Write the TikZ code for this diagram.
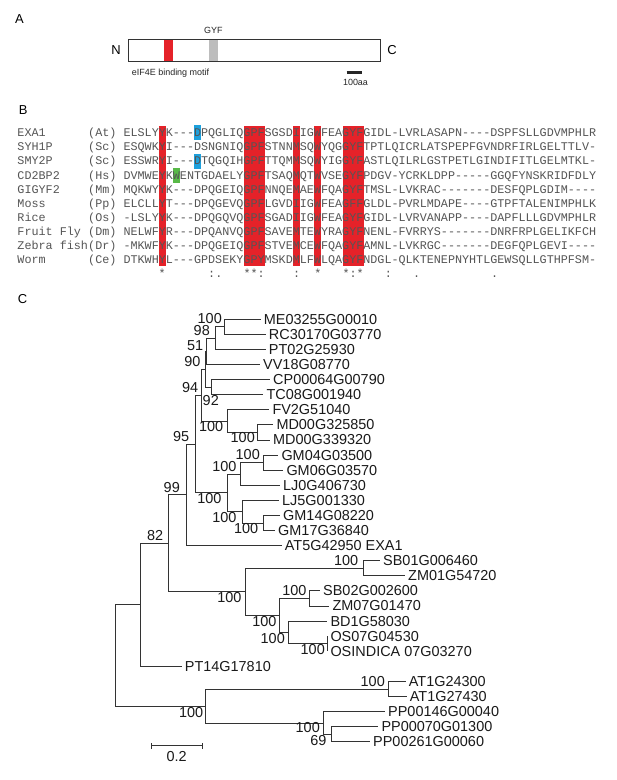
\documentclass[tikz,border=0pt]{standalone}
\usepackage{fontspec}
\setmainfont{Liberation Sans}
\setmonofont{Liberation Mono}
\definecolor{hlred}{HTML}{E52229}
\definecolor{hlblue}{HTML}{1EA0DC}
\definecolor{hlgreen}{HTML}{58B947}
\definecolor{seqcol}{HTML}{555555}
\definecolor{treecol}{HTML}{333333}
\definecolor{labcol}{HTML}{1A1A1A}
\definecolor{gyfgray}{HTML}{BDBDBD}
\definecolor{boxcol}{HTML}{333333}
\begin{document}
\begin{tikzpicture}[x=1bp,y=-1bp,
  br/.style={draw=treecol,line width=0.9bp},
  leaf/.style={anchor=west,inner xsep=3bp,inner ysep=0pt,font=\fontsize{14.5}{16}\selectfont,text=labcol},
  bs/.style={anchor=east,inner sep=0pt,font=\fontsize{14.5}{16}\selectfont,text=labcol},
  seqtxt/.style={anchor=base west,inner sep=0pt,font=\ttfamily\fontsize{11.8}{13}\selectfont,text=seqcol},
  cons/.style={anchor=base,inner sep=0pt,font=\ttfamily\fontsize{11.8}{13}\selectfont,text=seqcol},
  panel/.style={inner sep=0pt,font=\fontsize{13}{15}\selectfont},
  smalltxt/.style={inner sep=0pt,font=\fontsize{9}{11}\selectfont,text=black!85},
  band/.style={inner sep=0pt,minimum width=8.3bp,minimum height=22.6bp,anchor=north west}
]
\useasboundingbox (0,0) rectangle (617,780);
\fill[white] (0,0) rectangle (617,780);

% ---------------- Panel A ----------------
\node[panel] (labA) at (19.5,19.5) {A};
\node[band,fill=hlred] (eif) at (164,38.7) {};
\node[band,fill=gyfgray] (gyfbox) at (209,38.7) {};
\node[draw=boxcol,line width=1.1bp,inner sep=0pt,minimum width=252.6bp,minimum height=22.6bp,anchor=north west] (prot) at (127.7,38.7) {};
\node[panel] (Nterm) at (116,50) {N};
\node[panel] (Cterm) at (392,50) {C};
\node[smalltxt,anchor=base] (gyf) at (213.3,33.9) {GYF};
\node[smalltxt,anchor=base west] (eiflab) at (131.7,75.5) {eIF4E binding motif};
\coordinate (sa) at (346.7,72.3);
\coordinate (sb) at (362.3,72.3);
\draw[line width=2.6bp,black!85] (sa) -- (sb);
\node[smalltxt,anchor=base] (aa) at (355.5,85.9) {100aa};

% ---------------- Panel B ----------------
\node[panel] (labB) at (23.3,110.5) {B};
\foreach \c in {6,18,19,20,25,28,32,33,34}{
  \fill[hlred] ({123.35+(\c-1)*7.07},125.5) rectangle ++(7.07,140);
}
\fill[hlblue] ({123.35+10*7.07},125.2) rectangle ++(7.07,15);
\fill[hlblue] ({123.35+10*7.07},153.5) rectangle ++(7.07,15);
\fill[hlgreen] ({123.35+7*7.07},167.6) rectangle ++(7.07,15);
\foreach \nm/\sp/\sq [count=\r from 0] in {
  EXA1/At/ELSLYYK---DPQGLIQGPFSGSDIIGWFEAGYFGIDL-LVRLASAPN----DSPFSLLGDVMPHLR,
  SYH1P/Sc/ESQWKYI---DSNGNIQGPFSTNNMSQWYQGGYFTPTLQICRLATSPEPFGVNDRFIRLGELTTLV-,
  SMY2P/Sc/ESSWRYI---DTQGQIHGPFTTQMMSQWYIGGYFASTLQILRLGSTPETLGINDIFITLGELMTKL-,
  CD2BP2/Hs/DVMWEYKWENTGDAELYGPFTSAQMQTWVSEGYFPDGV-YCRKLDPP-----GGQFYNSKRIDFDLY,
  GIGYF2/Mm/MQKWYYK---DPQGEIQGPFNNQEMAEWFQAGYFTMSL-LVKRAC-------DESFQPLGDIM----,
  Moss/Pp/ELCLLYT---DPQGEVQGPFLGVDIIGWFEAGFFGLDL-PVRLMDAPE----GTPFTALENIMPHLK,
  Rice/Os/-LSLYYK---DPQGQVQGPFSGADIIGWFEAGYFGIDL-LVRVANAPP----DAPFLLLGDVMPHLR,
  Fruit Fly/Dm/NELWFYR---DPQANVQGPFSAVEMTEWYRAGYFNENL-FVRRYS-------DNRFRPLGELIKFCH,
  Zebra fish/Dr/-MKWFYK---DPQGEIQGPFSTVEMCEWFQAGYFAMNL-LVKRGC-------DEGFQPLGEVI----,
  Worm/Ce/DTKWHYL---GPDSEKYGPYMSKDMLFWLQAGYFNDGL-QLKTENEPNYHTLGEWSQLLGTHPFSM-}{
  \pgfmathsetmacro\yb{132.7+14.14*\r+3.9}
  \node[seqtxt] (name\r) at (17.3,\yb) {\nm};
  \node[seqtxt] (spec\r) at (88.0,\yb) {(\sp)};
  \node[seqtxt] (seq\r) at (123.35,\yb) {\sq};
}
\foreach \c/\m [count=\k] in {6/*,13/:,14/.,18/*,19/*,20/:,25/:,28/*,32/*,33/:,34/*,38/:,42/.,53/.}{
  \node[cons] (cons\k) at ({123.35+(\c-0.5)*7.07},277.9) {\m};
}

% ---------------- Panel C ----------------
\node[panel] (labC) at (22.5,299) {C};

% leaves
\node[leaf] (ME)   at (260.7,319.3)  {ME03255G00010};
\node[leaf] (RC)   at (265.7,334.39) {RC30170G03770};
\node[leaf] (PTa)  at (265.7,349.48) {PT02G25930};
\node[leaf] (VV)   at (260.0,364.57) {VV18G08770};
\node[leaf] (CP)   at (270.0,379.66) {CP00064G00790};
\node[leaf] (TC)   at (263.3,394.75) {TC08G001940};
\node[leaf] (FV)   at (269.3,409.84) {FV2G51040};
\node[leaf] (MDa)  at (273.3,424.93) {MD00G325850};
\node[leaf] (MDb)  at (270.0,440.02) {MD00G339320};
\node[leaf] (GMa)  at (278.3,455.11) {GM04G03500};
\node[leaf] (GMb)  at (283.3,470.2)  {GM06G03570};
\node[leaf] (LJa)  at (280.0,485.29) {LJ0G406730};
\node[leaf] (LJb)  at (279.0,500.38) {LJ5G001330};
\node[leaf] (GMc)  at (280.0,515.47) {GM14G08220};
\node[leaf] (GMd)  at (275.0,530.56) {GM17G36840};
\node[leaf] (AT5)  at (281.7,545.65) {AT5G42950 EXA1};
\node[leaf] (SBa)  at (380.0,560.74) {SB01G006460};
\node[leaf] (ZMa)  at (405.0,575.83) {ZM01G54720};
\node[leaf] (SBb)  at (320.0,590.92) {SB02G002600};
\node[leaf] (ZMb)  at (329.3,606.01) {ZM07G01470};
\node[leaf] (BD)   at (327.3,621.1)  {BD1G58030};
\node[leaf] (OSa)  at (327.3,636.19) {OS07G04530};
\node[leaf] (OSb)  at (327.3,651.28) {OSINDICA 07G03270};
\node[leaf] (PTb)  at (181.7,666.37) {PT14G17810};
\node[leaf] (ATa)  at (405.7,681.46) {AT1G24300};
\node[leaf] (ATb)  at (406.7,696.55) {AT1G27430};
\node[leaf] (PPa)  at (385.0,711.64) {PP00146G00040};
\node[leaf] (PPb)  at (378.3,726.73) {PP00070G01300};
\node[leaf] (PPc)  at (370.0,741.82) {PP00261G00060};

% internal nodes
\coordinate (n1) at (224.0,326.85);
\coordinate (n2) at (215.7,338.17);
\coordinate (n3) at (206.5,351.37);
\coordinate (n4) at (211.2,387.21);
\coordinate (n5) at (205.0,369.29);
\coordinate (n6) at (257.3,432.48);
\coordinate (n7) at (227.7,421.16);
\coordinate (n8) at (201.3,395.23);
\coordinate (n9) at (263.3,462.66);
\coordinate (n10) at (240.7,473.98);
\coordinate (n11) at (263.3,523.02);
\coordinate (n12) at (242.3,511.7);
\coordinate (n13) at (227.7,492.84);
\coordinate (n14) at (195.0,444.04);
\coordinate (n15) at (186.0,494.85);
\coordinate (n16) at (363.3,568.29);
\coordinate (n17) at (309.3,598.47);
\coordinate (n18) at (327.3,643.74);
\coordinate (n19) at (288.3,632.42);
\coordinate (n20) at (279.3,615.45);
\coordinate (n21) at (245.7,591.87);
\coordinate (n22) at (168.3,543.36);
\coordinate (n23) at (140.5,604.87);
\coordinate (n24) at (388.3,689.0);
\coordinate (n25) at (331.0,734.28);
\coordinate (n26) at (323.3,722.96);
\coordinate (n27) at (205.7,705.98);
\coordinate (root) at (115.0,655.43);

% branches
\draw[br] (n1) |- (ME.west);  \draw[br] (n1) |- (RC.west);
\draw[br] (n2) |- (n1);       \draw[br] (n2) |- (PTa.west);
\draw[br] (n3) |- (n2);       \draw[br] (n3) |- (VV.west);
\draw[br] (n4) |- (CP.west);  \draw[br] (n4) |- (TC.west);
\draw[br] (n5) |- (n3);       \draw[br] (n5) |- (n4);
\draw[br] (n6) |- (MDa.west); \draw[br] (n6) |- (MDb.west);
\draw[br] (n7) |- (FV.west);  \draw[br] (n7) |- (n6);
\draw[br] (n8) |- (n5);       \draw[br] (n8) |- (n7);
\draw[br] (n9) |- (GMa.west); \draw[br] (n9) |- (GMb.west);
\draw[br] (n10) |- (n9);      \draw[br] (n10) |- (LJa.west);
\draw[br] (n11) |- (GMc.west); \draw[br] (n11) |- (GMd.west);
\draw[br] (n12) |- (LJb.west); \draw[br] (n12) |- (n11);
\draw[br] (n13) |- (n10);     \draw[br] (n13) |- (n12);
\draw[br] (n14) |- (n8);      \draw[br] (n14) |- (n13);
\draw[br] (n15) |- (n14);     \draw[br] (n15) |- (AT5.west);
\draw[br] (n16) |- (SBa.west); \draw[br] (n16) |- (ZMa.west);
\draw[br] (n17) |- (SBb.west); \draw[br] (n17) |- (ZMb.west);
\draw[br] (n18) |- (OSa.west); \draw[br] (n18) |- (OSb.west);
\draw[br] (n19) |- (BD.west); \draw[br] (n19) |- (n18);
\draw[br] (n20) |- (n17);     \draw[br] (n20) |- (n19);
\draw[br] (n21) |- (n16);     \draw[br] (n21) |- (n20);
\draw[br] (n22) |- (n15);     \draw[br] (n22) |- (n21);
\draw[br] (n23) |- (n22);     \draw[br] (n23) |- (PTb.west);
\draw[br] (n24) |- (ATa.west); \draw[br] (n24) |- (ATb.west);
\draw[br] (n25) |- (PPb.west); \draw[br] (n25) |- (PPc.west);
\draw[br] (n26) |- (PPa.west); \draw[br] (n26) |- (n25);
\draw[br] (n27) |- (n24);     \draw[br] (n27) |- (n26);
\draw[br] (root) |- (n23);    \draw[br] (root) |- (n27);

% bootstrap values
\node[bs] (b1)  at (222.0,318.4) {100};
\node[bs] (b2)  at (210.0,331.0) {98};
\node[bs] (b3)  at (203.3,345.8) {51};
\node[bs] (b5)  at (200.7,361.7) {90};
\node[bs] (b8)  at (198.3,387.6) {94};
\node[bs] (b4)  at (219.0,401.0) {92};
\node[bs] (b7)  at (223.3,427.0) {100};
\node[bs] (b6)  at (255.0,437.5) {100};
\node[bs] (b14) at (189.3,436.4) {95};
\node[bs] (b9)  at (260.0,455.0) {100};
\node[bs] (b10) at (236.7,466.4) {100};
\node[bs] (b13) at (221.7,498.5) {100};
\node[bs] (b12) at (236.7,517.3) {100};
\node[bs] (b11) at (258.3,528.5) {100};
\node[bs] (b15) at (180.0,487.2) {99};
\node[bs] (b22) at (163.3,535.8) {82};
\node[bs] (b16) at (358.3,560.7) {100};
\node[bs] (b21) at (241.7,598.0) {100};
\node[bs] (b17) at (306.7,590.9) {100};
\node[bs] (b20) at (276.7,621.5) {100};
\node[bs] (b19) at (285.0,638.3) {100};
\node[bs] (b18) at (325.0,649.5) {100};
\node[bs] (b27) at (203.3,712.3) {100};
\node[bs] (b24) at (385.0,681.4) {100};
\node[bs] (b26) at (320.0,728.0) {100};
\node[bs] (b25) at (326.7,741.0) {69};

% scale bar
\coordinate (s1) at (151.0,745.7);
\coordinate (s2) at (202.3,745.7);
\draw[br] (s1) -- (s2);
\draw[br] ([yshift=-3bp]s1) -- ([yshift=3bp]s1);
\draw[br] ([yshift=-3bp]s2) -- ([yshift=3bp]s2);
\node[bs,anchor=center] (sbl) at (176.7,756.7) {0.2};
\end{tikzpicture}
\end{document}
